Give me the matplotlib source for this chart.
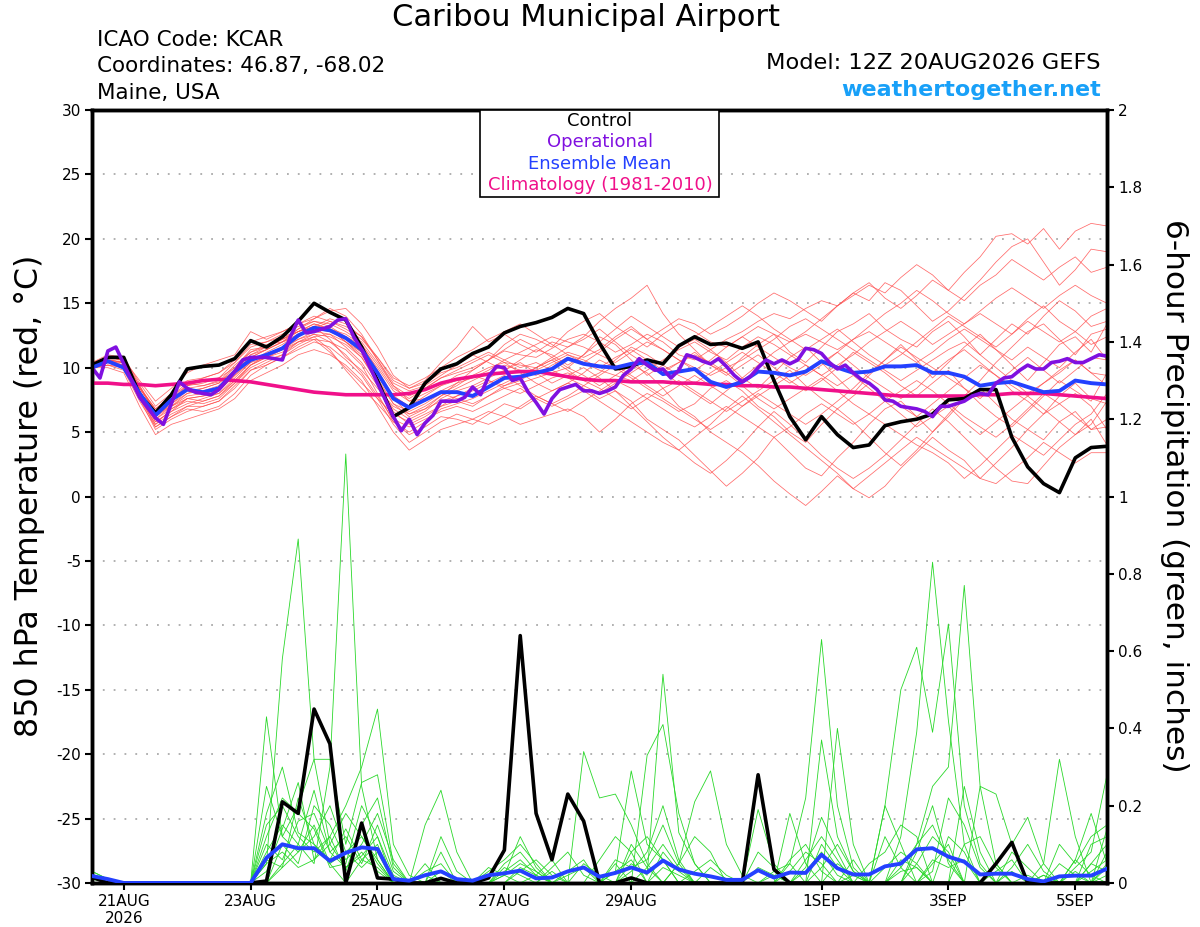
import numpy as np
import matplotlib
matplotlib.use("Agg")
import matplotlib.pyplot as plt
from matplotlib.patches import Rectangle

plt.rcParams["font.family"] = ["DejaVu Sans"]
plt.rcParams["axes.unicode_minus"] = False

# 6-hourly steps from 12Z 20AUG2026 (hour 0) to hour 384
STEP = 6
OP_STEP = 3

control_temp = [
    10.2, 10.8, 10.8, 7.9, 6.5, 7.9, 9.9, 10.1, 10.2, 10.7,
    12.1, 11.6, 12.4, 13.6, 15.0, 14.3, 13.7, 11.6, 9.0, 6.2,
    6.9, 8.8, 9.9, 10.3, 11.1, 11.6, 12.7, 13.2, 13.5, 13.9,
    14.6, 14.2, 11.9, 9.9, 10.1, 10.6, 10.3, 11.7, 12.4, 11.8,
    11.9, 11.5, 12.0, 9.0, 6.2, 4.4, 6.2, 4.8, 3.8, 4.0,
    5.5, 5.8, 6.0, 6.4, 7.5, 7.6, 8.3, 8.3, 4.6, 2.3,
    1.0, 0.3, 3.0, 3.8, 3.9,
]

mean_temp = [
    10.0, 10.5, 10.0, 8.0, 6.3, 7.5, 8.3, 8.1, 8.4, 9.7,
    10.6, 11.0, 11.5, 12.5, 13.1, 12.9, 12.3, 11.4, 9.6, 7.6,
    6.9, 7.5, 8.1, 8.1, 7.8, 8.5, 9.2, 9.3, 9.6, 9.9,
    10.7, 10.3, 10.1, 10.0, 10.3, 10.4, 9.5, 9.7, 9.9, 8.9,
    8.5, 8.9, 9.7, 9.6, 9.4, 9.7, 10.5, 10.0, 9.6, 9.7,
    10.1, 10.1, 10.2, 9.6, 9.6, 9.3, 8.6, 8.8, 8.9, 8.5,
    8.1, 8.2, 9.0, 8.8, 8.7,
]

clim_temp = [
    8.8, 8.8, 8.7, 8.7, 8.6, 8.7, 8.8, 9.0, 9.1, 9.0,
    8.9, 8.7, 8.5, 8.3, 8.1, 8.0, 7.9, 7.9, 7.9, 7.9,
    8.0, 8.3, 8.8, 9.1, 9.3, 9.5, 9.6, 9.7, 9.7, 9.5,
    9.3, 9.1, 9.0, 9.0, 8.9, 8.9, 8.9, 8.8, 8.8, 8.7,
    8.7, 8.6, 8.6, 8.5, 8.5, 8.4, 8.3, 8.2, 8.1, 8.0,
    7.9, 7.8, 7.8, 7.8, 7.8, 7.8, 7.9, 7.9, 8.0, 8.0,
    8.0, 7.9, 7.8, 7.7, 7.6,
]

# operational run is 3-hourly
oper_temp = [
    10.0, 9.2, 11.3, 11.6, 10.3, 9.0, 7.7, 6.9, 6.1, 5.6,
    7.2, 8.9, 8.4, 8.1, 8.0, 7.9, 8.3, 9.0, 9.7, 10.6,
    10.8, 10.8, 10.8, 10.7, 10.6, 12.4, 13.7, 12.7, 12.8, 13.0,
    13.2, 13.7, 13.8, 12.4, 11.4, 10.1, 8.8, 7.5, 6.2, 5.1,
    6.0, 4.8, 5.7, 6.3, 7.4, 7.4, 7.4, 7.7, 8.5, 7.9,
    9.3, 10.1, 10.0, 9.0, 9.2, 8.1, 7.3, 6.4, 7.6, 8.3,
    8.5, 8.7, 8.2, 8.2, 8.0, 8.2, 8.5, 9.4, 9.9, 10.7,
    10.2, 9.8, 9.9, 9.2, 9.8, 11.0, 10.8, 10.5, 10.3, 10.7,
    10.1, 9.4, 8.9, 9.3, 10.0, 10.6, 10.3, 10.6, 10.3, 10.6,
    11.5, 11.4, 11.1, 10.4, 9.9, 10.2, 9.6, 9.1, 8.8, 8.3,
    7.5, 7.4, 7.0, 6.9, 6.8, 6.6, 6.2, 7.0, 7.0, 7.2,
    7.4, 7.8, 8.0, 7.9, 8.8, 9.2, 9.3, 9.8, 10.2, 9.9,
    9.9, 10.4, 10.5, 10.7, 10.4, 10.4, 10.7, 11.0, 10.9,
]

# ensemble member 850 hPa temperatures (deg C), 6-hourly
member_temp = [
    [10.2, 10.6, 10.4, 8.5, 6.8, 7.8, 8.8, 8.6, 8.9,
     10.2, 11.2, 11.8, 12.0, 13.0, 13.6, 13.4, 12.8,
     12.0, 10.4, 8.6, 7.8, 8.4, 9.2, 9.6, 10.0,
     10.6, 11.3, 11.0, 10.8, 11.5, 12.2, 12.6, 12.0,
     11.2, 11.8, 12.6, 12.0, 11.0, 10.6, 11.4, 12.2,
     12.8, 13.6, 14.2, 13.8, 14.6, 15.2, 14.8, 15.6,
     16.4, 15.8, 17.0, 18.0, 17.2, 16.0, 17.4, 18.6,
     20.2, 20.4, 19.6, 20.8, 19.2, 20.6, 21.2, 21.0],
    [10.0, 10.2, 9.8, 7.4, 5.4, 6.2, 6.8, 6.6, 7.0,
     8.0, 9.4, 10.2, 10.8, 11.6, 12.2, 12.0, 11.4,
     10.2, 8.0, 5.8, 4.8, 5.4, 6.2, 6.0, 5.6,
     6.4, 7.2, 6.8, 7.6, 8.2, 8.8, 8.4, 7.6,
     8.2, 7.4, 6.0, 5.2, 4.4, 3.2, 2.0, 0.8,
     1.8, 3.0, 4.6, 3.4, 2.2, 1.6, 3.0, 4.2,
     5.6, 6.8, 7.4, 6.2, 5.0, 6.4, 7.8, 9.0,
     10.4, 11.6, 12.8, 13.4, 12.2, 11.0, 12.6, 13.0],
    [10.4, 10.8, 10.6, 9.0, 7.4, 8.4, 9.6, 10.2, 10.6,
     11.0, 12.8, 12.2, 12.8, 13.4, 13.8, 14.4, 14.6,
     13.4, 11.6, 9.4, 8.4, 9.0, 10.4, 11.6, 13.2,
     12.0, 12.6, 11.8, 11.2, 12.0, 11.6, 12.4, 13.6,
     14.6, 15.4, 16.4, 14.2, 12.6, 11.4, 10.2, 9.6,
     10.8, 11.8, 12.6, 11.2, 10.4, 11.6, 12.8, 13.4,
     14.2, 13.0, 12.2, 11.6, 12.8, 13.6, 12.4, 11.0,
     12.2, 13.4, 12.6, 14.0, 15.2, 14.4, 13.2, 13.6],
    [10.0, 10.4, 10.2, 8.2, 6.0, 6.8, 7.4, 7.2, 7.6,
     8.8, 10.0, 10.6, 11.0, 12.0, 12.6, 12.4, 11.8,
     10.8, 8.8, 6.6, 5.6, 6.2, 7.0, 7.4, 7.0,
     7.8, 8.4, 8.8, 9.2, 9.6, 10.0, 9.4, 8.6,
     9.4, 10.2, 9.6, 8.4, 7.0, 6.2, 5.0, 4.2,
     3.4, 2.4, 1.2, 0.2, -0.7, 0.4, 1.6, 0.6,
     -0.1, 0.8, 2.2, 3.4, 4.6, 3.6, 2.8, 1.4,
     2.6, 3.8, 5.2, 4.4, 5.8, 6.6, 5.2, 5.4],
    [10.2, 10.8, 10.8, 8.8, 7.0, 8.0, 9.0, 9.2, 9.6,
     10.4, 11.6, 12.0, 12.6, 13.2, 13.6, 13.2, 12.4,
     11.6, 10.0, 8.2, 7.4, 8.0, 8.6, 9.0, 9.4,
     10.0, 10.4, 10.2, 10.0, 10.6, 11.2, 10.8, 11.4,
     12.4, 13.2, 12.2, 13.0, 13.8, 13.4, 12.6, 13.2,
     14.0, 15.0, 15.8, 15.2, 14.4, 13.6, 14.8, 15.8,
     16.6, 15.4, 14.6, 15.6, 16.8, 16.0, 15.2, 16.4,
     17.2, 18.4, 17.6, 16.8, 17.8, 18.6, 17.4, 17.8],
    [10.0, 10.0, 9.6, 7.0, 4.8, 5.6, 6.0, 6.4, 6.8,
     7.6, 9.0, 9.6, 10.2, 11.0, 11.4, 11.0, 10.2,
     9.0, 7.0, 5.0, 3.6, 4.4, 5.2, 5.6, 6.0,
     6.6, 6.2, 5.6, 6.0, 6.4, 6.8, 6.2, 5.0,
     6.0, 7.2, 8.0, 7.4, 6.6, 7.2, 8.4, 9.0,
     8.2, 7.0, 6.2, 5.0, 4.2, 5.6, 6.8, 5.8,
     4.6, 3.4, 2.4, 3.6, 5.0, 6.2, 7.6, 8.4,
     7.2, 6.0, 5.2, 6.4, 7.8, 8.8, 7.6, 7.2],
    [10.4, 11.0, 10.8, 8.6, 6.4, 7.4, 8.6, 8.8, 9.2,
     10.0, 11.4, 11.6, 12.2, 13.0, 13.8, 14.6, 14.0,
     12.6, 10.6, 8.8, 8.2, 8.6, 9.4, 10.2, 11.0,
     10.4, 9.8, 10.6, 11.4, 11.0, 10.2, 11.0, 12.4,
     11.8, 10.6, 9.4, 10.2, 11.6, 12.2, 11.4, 10.4,
     9.2, 8.4, 9.6, 10.8, 11.6, 10.4, 9.2, 8.0,
     9.4, 10.6, 11.8, 10.6, 9.2, 10.4, 11.6, 12.6,
     11.4, 10.2, 9.0, 10.4, 11.8, 12.4, 11.2, 13.4],
    [10.2, 10.4, 10.0, 7.8, 5.8, 6.6, 7.2, 7.6, 8.0,
     9.2, 10.4, 10.8, 11.4, 12.2, 12.8, 12.6, 11.6,
     10.4, 8.6, 6.8, 6.0, 6.6, 7.6, 8.2, 8.6,
     9.2, 9.8, 10.4, 9.6, 8.8, 9.4, 10.0, 9.2,
     8.2, 7.0, 5.8, 4.6, 3.6, 2.6, 1.8, 2.8,
     4.0, 5.4, 6.6, 5.6, 4.4, 3.2, 2.2, 1.4,
     2.2, 3.2, 4.4, 5.6, 6.8, 5.8, 4.6, 3.4,
     2.2, 1.2, 1.0, 2.4, 3.8, 4.8, 6.0, 4.0],
    [10.0, 10.6, 10.4, 8.4, 6.6, 7.6, 8.2, 8.0, 8.2,
     9.4, 10.4, 11.2, 11.8, 12.6, 13.2, 13.0, 12.6,
     11.8, 9.8, 7.8, 7.0, 7.8, 8.6, 9.4, 9.8,
     10.6, 11.8, 12.6, 12.2, 11.6, 12.8, 13.6, 14.2,
     13.2, 12.4, 11.6, 12.6, 13.4, 12.8, 12.0, 11.6,
     12.4, 13.2, 12.6, 12.0, 12.8, 13.8, 14.8, 15.8,
     15.2, 16.6, 16.0, 14.8, 13.6, 14.4, 15.6, 16.8,
     18.2, 19.4, 20.0, 18.2, 16.4, 17.6, 19.2, 19.0],
    [10.2, 10.6, 10.6, 8.0, 6.0, 7.0, 7.8, 8.0, 8.4,
     9.8, 10.8, 11.4, 12.0, 12.8, 13.4, 13.0, 12.0,
     11.0, 9.2, 7.2, 6.6, 7.2, 8.0, 7.6, 7.2,
     7.8, 8.6, 9.0, 9.8, 10.4, 11.0, 10.6, 10.0,
     10.8, 11.4, 10.6, 9.8, 10.4, 11.2, 10.2, 9.4,
     10.2, 11.0, 10.0, 9.0, 8.2, 9.0, 10.0, 11.2,
     10.4, 9.6, 8.6, 7.8, 8.8, 9.8, 8.4, 7.2,
     6.2, 5.4, 6.6, 7.8, 9.0, 8.2, 7.4, 9.6],
    [10.0, 10.4, 10.2, 8.2, 6.2, 7.2, 8.0, 8.2, 8.6,
     9.8, 11.0, 11.6, 12.2, 12.8, 13.2, 12.2, 10.8,
     9.8, 8.4, 7.0, 6.4, 7.0, 7.8, 8.4, 9.0,
     9.6, 10.2, 9.8, 9.4, 10.2, 10.8, 10.4, 9.8,
     9.4, 9.0, 9.8, 10.6, 11.4, 12.0, 11.2, 10.6,
     11.6, 12.4, 11.8, 11.0, 10.2, 9.4, 10.2, 11.0,
     12.0, 12.8, 13.6, 12.8, 11.8, 12.6, 13.4, 14.2,
     13.4, 12.6, 13.8, 14.8, 13.6, 12.8, 14.0, 14.6],
    [10.2, 10.6, 10.2, 8.4, 6.8, 7.8, 8.6, 9.0, 9.2,
     10.4, 11.8, 12.0, 12.4, 12.8, 13.2, 12.8, 12.2,
     11.2, 9.4, 7.6, 6.4, 6.8, 7.4, 7.8, 8.4,
     9.0, 8.4, 8.0, 8.6, 9.2, 9.6, 9.0, 8.4,
     7.6, 6.8, 7.6, 8.4, 9.0, 8.2, 7.4, 6.6,
     7.4, 8.2, 9.0, 9.8, 8.6, 7.6, 6.8, 7.8,
     8.8, 7.8, 7.0, 6.2, 7.2, 8.2, 9.2, 10.2,
     9.4, 8.6, 7.8, 6.8, 5.8, 4.8, 5.6, 7.4],
    [10.0, 10.4, 10.4, 8.2, 6.4, 7.0, 7.6, 7.4, 7.8,
     9.0, 10.2, 10.8, 11.2, 12.0, 12.4, 11.4, 9.8,
     8.4, 7.2, 5.8, 5.0, 5.8, 6.8, 7.2, 7.6,
     8.2, 8.8, 9.4, 10.0, 10.8, 11.6, 12.2, 13.0,
     12.0, 11.0, 10.2, 9.6, 10.4, 11.0, 10.4, 9.6,
     8.6, 7.6, 6.8, 7.6, 8.4, 9.2, 8.2, 7.2,
     6.4, 5.6, 4.8, 4.0, 3.4, 2.6, 1.4, 2.4,
     3.6, 4.8, 4.0, 3.2, 4.4, 5.6, 6.4, 8.0],
    [10.2, 10.8, 10.6, 8.6, 6.6, 7.6, 8.4, 8.6, 9.0,
     9.6, 10.8, 11.4, 12.0, 12.6, 13.0, 13.6, 13.2,
     12.4, 10.8, 9.0, 8.4, 8.8, 9.6, 10.0, 10.6,
     11.2, 10.6, 10.0, 10.4, 9.8, 9.2, 8.6, 8.0,
     8.8, 9.6, 10.4, 9.6, 8.8, 8.0, 7.2, 8.2,
     9.2, 10.2, 11.2, 12.0, 12.6, 12.0, 11.4, 12.2,
     12.8, 12.0, 11.2, 10.4, 11.2, 12.2, 13.0, 12.2,
     11.4, 10.6, 11.6, 10.8, 10.0, 11.2, 12.2, 10.6],
    [10.4, 10.8, 10.6, 8.2, 6.2, 7.2, 8.2, 8.4, 8.8,
     9.8, 11.0, 11.4, 12.0, 12.4, 13.0, 12.8, 12.4,
     11.8, 10.2, 8.4, 7.6, 8.4, 9.2, 9.8, 10.4,
     11.0, 10.4, 9.6, 8.8, 8.2, 8.8, 9.6, 10.6,
     10.0, 9.2, 8.4, 7.6, 6.8, 6.0, 5.2, 6.0,
     7.0, 8.0, 7.2, 6.4, 5.6, 6.4, 7.4, 8.4,
     9.6, 10.6, 11.6, 10.8, 10.0, 9.2, 8.4, 7.6,
     8.8, 9.8, 10.8, 9.8, 8.8, 9.8, 10.8, 10.6],
    [10.0, 10.2, 10.0, 7.6, 5.6, 6.4, 7.0, 7.0, 7.4,
     8.4, 9.8, 10.4, 11.0, 11.8, 12.4, 12.6, 12.0,
     11.2, 9.6, 7.8, 7.0, 7.4, 8.2, 8.8, 9.2,
     9.8, 10.6, 11.2, 11.8, 12.4, 12.0, 11.6, 11.0,
     10.4, 11.2, 12.0, 11.4, 10.6, 10.0, 9.4, 10.0,
     10.6, 11.4, 12.2, 13.2, 13.8, 13.0, 12.2, 11.4,
     10.6, 9.8, 9.0, 9.8, 10.6, 11.4, 12.0, 11.0,
     10.0, 9.0, 8.0, 8.8, 9.6, 10.6, 9.6, 9.4],
    [10.2, 10.4, 10.0, 7.8, 5.4, 6.2, 7.0, 7.4, 7.8,
     8.8, 10.2, 11.0, 11.6, 12.4, 13.2, 13.8, 13.4,
     12.4, 10.6, 8.6, 7.4, 7.6, 8.0, 8.6, 9.4,
     9.0, 8.6, 9.2, 10.0, 10.6, 9.8, 9.0, 9.6,
     10.6, 11.6, 11.0, 10.2, 9.4, 8.8, 9.6, 10.4,
     11.2, 10.4, 9.6, 8.8, 9.6, 10.4, 11.2, 10.2,
     9.2, 8.4, 7.6, 8.4, 9.6, 10.6, 11.4, 10.4,
     9.4, 8.2, 7.4, 6.4, 7.2, 8.0, 7.0, 5.2],
    [10.0, 10.6, 10.4, 8.0, 5.8, 6.6, 7.6, 7.8, 8.2,
     9.4, 10.6, 11.0, 11.6, 12.2, 12.6, 12.0, 11.0,
     9.6, 7.8, 6.0, 5.4, 6.0, 6.6, 7.0, 6.6,
     7.2, 7.8, 8.4, 7.6, 7.0, 7.6, 8.2, 7.4,
     6.6, 5.8, 5.0, 4.2, 3.6, 4.6, 5.6, 6.8,
     7.8, 6.8, 5.8, 4.8, 3.8, 2.8, 1.8, 0.6,
     1.6, 2.6, 3.6, 4.6, 3.8, 3.0, 2.2, 1.4,
     1.0, 2.0, 3.0, 4.2, 3.4, 2.6, 3.4, 3.4],
    [10.2, 10.6, 10.4, 8.2, 6.2, 7.0, 8.0, 8.4, 8.8,
     10.0, 11.2, 11.6, 12.2, 12.8, 13.4, 13.0, 12.0,
     10.8, 9.0, 7.2, 6.2, 6.8, 7.8, 8.8, 9.8,
     10.6, 11.4, 12.2, 11.6, 10.8, 10.0, 11.0, 12.0,
     13.0, 14.0, 13.2, 12.4, 11.6, 12.4, 13.2, 14.0,
     14.8, 14.0, 13.0, 12.2, 11.4, 12.2, 13.0, 12.0,
     11.0, 10.2, 11.0, 12.0, 13.0, 14.0, 13.2, 12.4,
     11.6, 12.6, 13.6, 12.8, 12.0, 12.8, 11.8, 12.4],
    [10.0, 10.4, 10.0, 7.6, 5.2, 6.0, 6.6, 7.0, 7.4,
     8.6, 9.8, 10.2, 10.8, 11.4, 12.0, 11.6, 10.6,
     9.4, 7.6, 5.6, 4.2, 5.0, 5.8, 6.4, 6.0,
     5.6, 6.2, 7.0, 7.8, 7.2, 6.6, 7.4, 8.2,
     9.0, 8.4, 7.6, 6.8, 6.0, 5.4, 6.2, 7.0,
     6.2, 5.4, 4.6, 5.4, 6.4, 7.2, 6.4, 5.6,
     6.4, 7.4, 8.2, 9.0, 8.2, 7.2, 6.2, 5.4,
     4.6, 5.6, 6.8, 8.0, 7.2, 6.2, 5.2, 6.0],
    [10.2, 10.8, 10.6, 8.4, 6.6, 7.6, 8.6, 9.2, 9.6,
     10.6, 12.0, 12.4, 12.8, 13.4, 14.0, 13.6, 13.0,
     12.2, 10.8, 9.2, 8.6, 9.2, 10.0, 10.8, 11.4,
     12.2, 12.8, 13.4, 12.6, 11.8, 11.0, 10.4, 11.2,
     12.2, 13.0, 12.2, 11.4, 10.6, 9.8, 10.6, 11.6,
     12.4, 11.6, 10.8, 10.0, 9.4, 10.2, 11.2, 12.2,
     13.2, 14.2, 15.0, 16.0, 15.2, 14.2, 13.4, 14.4,
     15.4, 16.2, 15.4, 14.6, 15.6, 16.4, 15.6, 15.0],
    [10.0, 10.2, 10.2, 7.8, 5.6, 6.8, 7.6, 7.8, 8.0,
     9.0, 10.2, 10.8, 11.4, 12.0, 12.2, 11.2, 10.0,
     8.8, 7.6, 6.4, 5.8, 6.4, 7.0, 7.8, 8.2,
     8.8, 9.4, 8.6, 7.8, 7.2, 7.8, 8.6, 9.4,
     10.2, 9.4, 8.6, 7.8, 8.6, 9.4, 8.6, 7.8,
     7.0, 7.8, 8.6, 9.4, 10.2, 9.4, 8.6, 9.4,
     8.4, 7.4, 6.4, 5.4, 6.2, 7.0, 5.8, 4.8,
     5.8, 6.8, 7.8, 8.8, 9.8, 10.6, 9.6, 8.6],
]

control_precip = [
    0.015, 0, 0, 0, 0, 0, 0, 0, 0, 0,
    0, 0.005, 0.21, 0.18, 0.45, 0.36, 0.0, 0.155, 0.013, 0.01,
    0, 0, 0.012, 0, 0, 0.013, 0.085, 0.64, 0.18, 0.06,
    0.23, 0.16, 0, 0, 0.013, 0, 0, 0, 0, 0,
    0, 0, 0.28, 0.035, 0, 0, 0, 0, 0, 0,
    0, 0, 0, 0, 0, 0, 0, 0.05, 0.105, 0,
    0, 0, 0, 0, 0,
]

mean_precip = [
    0.018, 0.01, 0, 0, 0, 0, 0, 0, 0, 0,
    0, 0.065, 0.10, 0.09, 0.09, 0.057, 0.078, 0.092, 0.088, 0.01,
    0.006, 0.02, 0.03, 0.01, 0.006, 0.02, 0.025, 0.032, 0.012, 0.014,
    0.03, 0.04, 0.016, 0.026, 0.04, 0.027, 0.058, 0.035, 0.024, 0.017,
    0.008, 0.008, 0.033, 0.014, 0.027, 0.026, 0.073, 0.038, 0.022, 0.022,
    0.043, 0.05, 0.087, 0.09, 0.068, 0.055, 0.022, 0.024, 0.024, 0.01,
    0.004, 0.017, 0.019, 0.019, 0.037,
]

# ensemble member 6-hour precipitation (inches): {step index: amount}, other steps dry
member_precip = [
    {0: 0.03, 1: 0.01, 11: 0.43, 12: 0.12, 13: 0.08, 14: 0.15, 15: 0.05, 17: 0.06, 18: 0.10,
     26: 0.02, 27: 0.05, 28: 0.03, 34: 0.05, 35: 0.02, 36: 0.54, 37: 0.13, 38: 0.05, 43: 0.02,
     45: 0.03, 46: 0.08, 47: 0.02, 51: 0.04, 52: 0.10, 53: 0.25, 54: 0.30, 55: 0.77, 56: 0.25,
     57: 0.05, 60: 0.02, 63: 0.05, 64: 0.10},
    {0: 0.02, 11: 0.05, 12: 0.58, 13: 0.89, 14: 0.32, 15: 0.10, 16: 0.04, 17: 0.08, 18: 0.03,
     21: 0.03, 22: 0.05, 29: 0.04, 30: 0.08, 31: 0.02, 33: 0.03, 34: 0.29, 35: 0.10, 36: 0.06,
     44: 0.05, 45: 0.22, 46: 0.63, 47: 0.20, 48: 0.04, 51: 0.12, 52: 0.39, 53: 0.83, 54: 0.42,
     55: 0.10, 58: 0.03, 62: 0.06, 63: 0.18, 64: 0.05},
    {0: 0.03, 1: 0.01, 11: 0.08, 12: 0.15, 13: 0.10, 14: 0.05, 15: 0.30, 16: 1.11, 17: 0.25,
     18: 0.06, 26: 0.03, 27: 0.06, 28: 0.02, 35: 0.33, 36: 0.41, 37: 0.18, 38: 0.05, 42: 0.19,
     43: 0.05, 47: 0.40, 48: 0.10, 50: 0.20, 51: 0.50, 52: 0.61, 53: 0.39, 54: 0.67, 55: 0.20,
     56: 0.05, 60: 0.05, 61: 0.32, 62: 0.12, 64: 0.04},
    {0: 0.02, 11: 0.15, 12: 0.20, 13: 0.12, 14: 0.08, 15: 0.12, 16: 0.20, 17: 0.30, 18: 0.45,
     19: 0.10, 20: 0.02, 31: 0.34, 32: 0.22, 33: 0.23, 34: 0.15, 35: 0.05, 37: 0.05, 38: 0.21,
     39: 0.29, 40: 0.10, 41: 0.02, 44: 0.18, 45: 0.05, 50: 0.20, 51: 0.10, 56: 0.25, 57: 0.23,
     58: 0.10, 59: 0.17, 60: 0.05, 64: 0.14},
    {11: 0.25, 12: 0.12, 13: 0.20, 14: 0.32, 15: 0.32, 16: 0.10, 17: 0.26, 18: 0.28, 19: 0.05,
     21: 0.15, 22: 0.24, 23: 0.08, 26: 0.04, 27: 0.02, 30: 0.03, 31: 0.06, 34: 0.08, 35: 0.12,
     36: 0.06, 46: 0.37, 47: 0.12, 48: 0.03, 52: 0.05, 53: 0.12, 54: 0.08, 62: 0.04, 63: 0.08,
     64: 0.28},
    {0: 0.01, 11: 0.10, 12: 0.06, 13: 0.16, 14: 0.18, 15: 0.08, 16: 0.12, 17: 0.05, 18: 0.15,
     19: 0.03, 25: 0.03, 26: 0.06, 27: 0.10, 28: 0.05, 32: 0.06, 33: 0.12, 34: 0.08, 37: 0.05,
     38: 0.12, 39: 0.08, 45: 0.04, 46: 0.17, 47: 0.08, 49: 0.05, 50: 0.08, 51: 0.15, 52: 0.12,
     55: 0.25, 56: 0.08, 61: 0.10, 62: 0.05, 63: 0.12, 64: 0.15},
    {0: 0.02, 11: 0.18, 12: 0.30, 13: 0.13, 14: 0.10, 15: 0.05, 16: 0.08, 17: 0.12, 18: 0.05,
     22: 0.12, 23: 0.03, 28: 0.02, 29: 0.06, 33: 0.05, 35: 0.04, 36: 0.10, 37: 0.04, 42: 0.08,
     43: 0.04, 48: 0.06, 50: 0.12, 51: 0.04, 53: 0.05, 54: 0.10, 58: 0.08, 59: 0.04, 63: 0.03,
     64: 0.06},
    {12: 0.10, 13: 0.05, 14: 0.20, 15: 0.15, 16: 0.06, 17: 0.10, 18: 0.18, 19: 0.06, 21: 0.05,
     26: 0.05, 27: 0.08, 28: 0.03, 34: 0.03, 35: 0.08, 36: 0.20, 37: 0.06, 43: 0.03, 44: 0.05,
     46: 0.10, 47: 0.04, 52: 0.08, 53: 0.20, 54: 0.05, 57: 0.05, 60: 0.02, 64: 0.08},
    {11: 0.05, 12: 0.08, 13: 0.04, 14: 0.06, 15: 0.12, 16: 0.03, 17: 0.15, 18: 0.22, 19: 0.04,
     27: 0.04, 28: 0.02, 31: 0.05, 32: 0.02, 38: 0.03, 39: 0.06, 40: 0.02, 45: 0.06, 46: 0.12,
     47: 0.06, 51: 0.06, 52: 0.04, 55: 0.10, 56: 0.12, 57: 0.04, 61: 0.05, 62: 0.02, 64: 0.05},
    {11: 0.12, 12: 0.22, 13: 0.18, 14: 0.14, 15: 0.04, 16: 0.05, 17: 0.20, 18: 0.12, 19: 0.02,
     22: 0.08, 26: 0.02, 27: 0.12, 28: 0.04, 33: 0.06, 34: 0.04, 35: 0.06, 36: 0.15, 37: 0.05,
     47: 0.05, 48: 0.02, 53: 0.03, 54: 0.22, 55: 0.15, 56: 0.04, 63: 0.10, 64: 0.12},
    {12: 0.04, 13: 0.22, 14: 0.10, 15: 0.06, 16: 0.14, 17: 0.06, 18: 0.04, 30: 0.02, 31: 0.04,
     36: 0.04, 37: 0.02, 42: 0.04, 43: 0.02, 48: 0.02, 50: 0.04, 51: 0.08, 52: 0.05, 57: 0.03,
     58: 0.06, 62: 0.03},
    {11: 0.06, 12: 0.04, 13: 0.08, 14: 0.12, 15: 0.20, 16: 0.08, 17: 0.04, 18: 0.08, 22: 0.03,
     29: 0.03, 34: 0.10, 35: 0.04, 39: 0.04, 40: 0.01, 44: 0.03, 45: 0.08, 46: 0.05, 53: 0.06,
     54: 0.04, 55: 0.06, 59: 0.02, 63: 0.05, 64: 0.03},
    {11: 0.03, 12: 0.14, 13: 0.26, 14: 0.06, 15: 0.10, 16: 0.18, 17: 0.12, 18: 0.06, 27: 0.03,
     28: 0.06, 29: 0.02, 36: 0.08, 37: 0.03, 46: 0.04, 47: 0.10, 48: 0.03, 52: 0.10, 53: 0.15,
     54: 0.06, 58: 0.04, 59: 0.10, 60: 0.03, 64: 0.02},
    {0: 0.015, 12: 0.05, 13: 0.10, 14: 0.24, 15: 0.08, 16: 0.04, 17: 0.07, 18: 0.12, 21: 0.02,
     25: 0.04, 26: 0.02, 33: 0.03, 34: 0.06, 44: 0.06, 45: 0.10, 46: 0.03, 51: 0.03, 52: 0.04,
     54: 0.12, 55: 0.08, 62: 0.06, 63: 0.02},
]

tick_hours = [12, 60, 108, 156, 204, 276, 324, 372]
tick_labels = ["21AUG\n2026", "23AUG", "25AUG", "27AUG", "29AUG", "1SEP", "3SEP", "5SEP"]

RED = "#ff5050"
GREEN = "#2ad82a"
BLACK = "black"
PURPLE = "#8010e0"
BLUE = "#2440ff"
MAGENTA = "#f0108a"

n = len(control_temp)
hours = np.arange(n) * STEP
op_hours = np.arange(len(oper_temp)) * OP_STEP

fig = plt.figure(figsize=(12, 9.27), dpi=100)
ax = fig.add_axes([0.0767, 0.0475, 0.8458, 0.8338])
ax2 = ax.twinx()

# temperature panel
for y in range(-25, 30, 5):
    ax.axhline(y, color="#aaaaaa", ls=(0, (1, 5)), lw=1.3, zorder=0)
for m in member_temp:
    ax.plot(hours, m, color=RED, lw=0.55, alpha=0.85, zorder=1)
ax.plot(hours, clim_temp, color=MAGENTA, lw=2.6, zorder=3)
ax.plot(hours, control_temp, color=BLACK, lw=2.6, zorder=4)
ax.plot(hours, mean_temp, color=BLUE, lw=2.8, zorder=5)
ax.plot(op_hours, oper_temp, color=PURPLE, lw=2.6, zorder=6)

# precipitation panel
for m in member_precip:
    vals = np.zeros(n)
    for k, v in m.items():
        vals[k] = v
    ax2.plot(hours, vals, color=GREEN, lw=0.6, zorder=1)
ax2.plot(hours, control_precip, color=BLACK, lw=2.6, zorder=3)
ax2.plot(hours, mean_precip, color=BLUE, lw=2.8, zorder=4)

ax.set_xlim(0, (n - 1) * STEP)
ax.set_ylim(-30, 30)
ax2.set_ylim(0, 2)
ax.set_yticks(range(-30, 31, 5))
ax2.set_yticks(np.arange(0, 2.01, 0.2))
ax2.set_yticklabels([f"{v:g}" for v in np.arange(0, 2.01, 0.2).round(1)])
ax.set_xticks(tick_hours)
ax.set_xticklabels(tick_labels)

for a in (ax, ax2):
    for s in a.spines.values():
        s.set_linewidth(2.5)
ax.tick_params(axis="both", direction="out", length=5, width=1.5, labelsize=11, pad=3)
ax2.tick_params(axis="y", direction="out", length=5, width=1.5, labelsize=11, pad=3)

# legend box
box = Rectangle((0.3823, 0.8875), 0.2354, 0.1125, transform=ax2.transAxes,
                facecolor="white", edgecolor="black", lw=1.2, zorder=10)
ax2.add_patch(box)
legend_items = [("Control", BLACK), ("Operational", PURPLE),
                ("Ensemble Mean", BLUE), ("Climatology (1981-2010)", MAGENTA)]
for k, (txt, col) in enumerate(legend_items):
    ax2.text(0.5005, 0.9858 - k * 0.0276, txt, color=col, fontsize=13,
             ha="center", va="center", transform=ax2.transAxes, zorder=11)

# header text
fig.text(0.488, 1 - 18 / 927, "Caribou Municipal Airport", ha="center", va="center", fontsize=22)
for k, line in enumerate(["ICAO Code: KCAR", "Coordinates: 46.87, -68.02", "Maine, USA"]):
    fig.text(97 / 1200, 1 - (40 + k * 26.5) / 927, line, ha="left", va="center", fontsize=15.5)
fig.text(1101 / 1200, 1 - 63 / 927, "Model: 12Z 20AUG2026 GEFS", ha="right", va="center", fontsize=16.2)
fig.text(1101 / 1200, 1 - 90 / 927, "weathertogether.net", ha="right", va="center",
         fontsize=16, fontweight="bold", color="#18a0f8")

fig.text(30 / 1200, 0.465, "850 hPa Temperature (red, \u00b0C)", rotation=90,
         ha="center", va="center", fontsize=22.8)
fig.text(1175 / 1200, 0.465, "6-hour Precipitation (green, inches)", rotation=270,
         ha="center", va="center", fontsize=22.5)

fig.savefig("out.png", dpi=100)
